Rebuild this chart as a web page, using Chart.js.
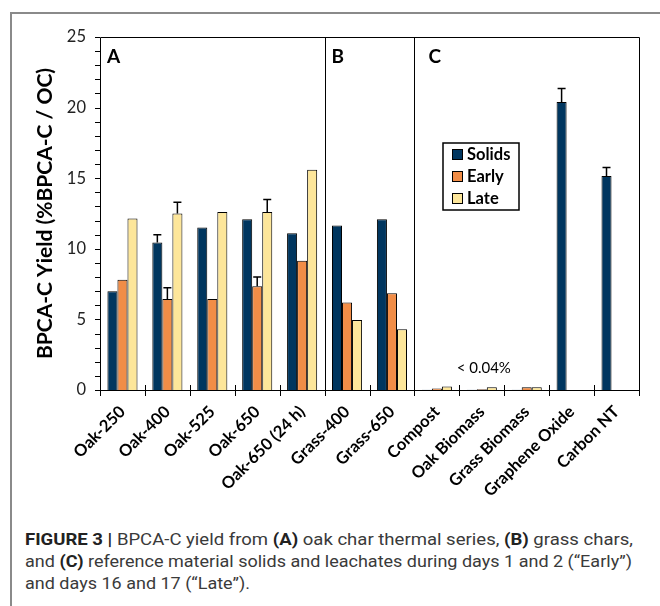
<!DOCTYPE html>
<html>
<head>
<meta charset="utf-8">
<script src="https://cdn.jsdelivr.net/npm/chart.js@4.4.0/dist/chart.umd.min.js"></script>
<style>
  html, body { margin: 0; padding: 0; background: #fff; }
  body { width: 660px; height: 606px; position: relative; overflow: hidden; }
  #frame { position: absolute; left: 10px; top: 12px; width: 700px; height: 700px;
           border-left: 2px solid #8a8a8a; border-top: 2px solid #8a8a8a; }
  #wrap { position: absolute; left: 0; top: 0; width: 660px; height: 520px; }
  .cap { position: absolute; left: 25px; font-family: Roboto, "Liberation Sans", sans-serif;
         font-size: 17px; color: #3a3a3a; white-space: nowrap; transform-origin: 0 0; }
  .cap b { color: #222; }
</style>
</head>
<body>
<div id="frame"></div>
<div id="wrap"><canvas id="chart" width="660" height="520"></canvas></div>
<div class="cap" id="cap1" style="top:529px" data-w="608"><b>FIGURE 3 |</b> BPCA-C yield from <b>(A)</b> oak char thermal series, <b>(B)</b> grass chars,</div>
<div class="cap" id="cap2" style="top:551px" data-w="607">and <b>(C)</b> reference material solids and leachates during days 1 and 2 (“Early”)</div>
<div class="cap" id="cap3" style="top:573px" data-w="225">and days 16 and 17 (“Late”).</div>
<script>
const categories = ['Oak-250', 'Oak-400', 'Oak-525', 'Oak-650', 'Oak-650 (24 h)', 'Grass-400', 'Grass-650',
  'Compost', 'Oak Biomass', 'Grass Biomass', 'Graphene Oxide', 'Carbon NT'];

const solids = [7.0, 10.45, 11.5, 12.1, 11.1, 11.65, 12.1, 0.02, 0.02, 0.02, 20.4, 15.15];
const early  = [7.8, 6.45, 6.45, 7.35, 9.15, 6.2, 6.85, 0.1, 0.05, 0.2, null, null];
const late   = [12.15, 12.5, 12.6, 12.6, 15.6, 4.95, 4.3, 0.25, 0.2, 0.2, null, null];

// top of the error bar (only the upper half is drawn in the figure)
const solidsErr = [null, 11.0, null, null, null, null, null, null, null, null, 21.35, 15.75];
const earlyErr  = [null, 7.25, null, 8.0, null, null, null, null, null, null, null, null];
const lateErr   = [null, 13.3, null, 13.5, null, null, null, null, null, null, null, null];

const yTicks = [0, 5, 10, 15, 20, 25];
const seriesNames = ['Solids', 'Early', 'Late'];
const colors = ['#00365f', '#f18d47', '#fde69a'];

const panels = [{ label: 'A', start: 0, dx: 7 }, { label: 'B', start: 5, dx: 7 }, { label: 'C', start: 7, dx: 14 }];
const noteText = '< 0.04%';
const noteAt = { index: 8, value: 1.55 };

const errors = [solidsErr, earlyErr, lateErr];

const decor = {
  id: 'decor',
  afterDatasetsDraw(chart) {
    const { ctx, scales: { y } } = chart;
    ctx.save();
    ctx.strokeStyle = '#000';
    ctx.lineWidth = 1.5;
    errors.forEach((arr, i) => {
      const meta = chart.getDatasetMeta(i);
      arr.forEach((e, j) => {
        if (e == null) return;
        const bar = meta.data[j];
        const top = y.getPixelForValue(e);
        ctx.beginPath();
        ctx.moveTo(bar.x, bar.y);
        ctx.lineTo(bar.x, top);
        ctx.moveTo(bar.x - 4, top);
        ctx.lineTo(bar.x + 4, top);
        ctx.stroke();
      });
    });
    ctx.restore();
  },
  afterDraw(chart) {
    const { ctx, chartArea: a, scales: { x, y } } = chart;
    const half = (x.getPixelForValue(1) - x.getPixelForValue(0)) / 2;
    ctx.save();
    ctx.strokeStyle = '#000';
    ctx.lineWidth = 1;
    // box and axes
    ctx.beginPath();
    ctx.moveTo(a.left + 0.5, a.top + 0.5);
    ctx.lineTo(a.right + 0.5, a.top + 0.5);
    ctx.lineTo(a.right + 0.5, a.bottom + 0.5);
    ctx.lineTo(a.left + 0.5, a.bottom + 0.5);
    ctx.closePath();
    ctx.stroke();
    // panel dividers
    panels.slice(1).forEach(p => {
      const px = Math.round(x.getPixelForValue(p.start) - half) + 0.5;
      ctx.beginPath();
      ctx.moveTo(px, a.top);
      ctx.lineTo(px, a.bottom);
      ctx.stroke();
    });
    // x tick marks across the axis
    for (let i = 0; i <= categories.length; i++) {
      const px = Math.round(x.getPixelForValue(i) - half) + 0.5;
      ctx.beginPath();
      ctx.moveTo(px, a.bottom - 5);
      ctx.lineTo(px, a.bottom + 6);
      ctx.stroke();
    }
    // y ticks, major and minor
    for (let v = y.min; v <= y.max; v++) {
      const py = Math.round(y.getPixelForValue(v)) + 0.5;
      ctx.beginPath();
      ctx.moveTo(a.left - 5, py);
      ctx.lineTo(a.left, py);
      ctx.stroke();
    }
    // panel letters
    ctx.fillStyle = '#000';
    ctx.font = 'bold 19px Lato, sans-serif';
    ctx.textBaseline = 'alphabetic';
    ctx.textAlign = 'left';
    panels.forEach(p => {
      const px = x.getPixelForValue(p.start) - half + p.dx;
      ctx.fillText(p.label, px, a.top + 26);
    });
    // note
    ctx.font = '15px Lato, sans-serif';
    ctx.textAlign = 'center';
    ctx.textBaseline = 'middle';
    ctx.fillText(noteText, x.getPixelForValue(noteAt.index) + 2, y.getPixelForValue(noteAt.value));
    // legend
    const lx = a.left + 343, ly = a.top + 106;
    ctx.lineWidth = 1.5;
    ctx.strokeRect(lx, ly, 76, 67);
    ctx.font = 'bold 16.5px Lato, sans-serif';
    ctx.textAlign = 'left';
    seriesNames.forEach((name, i) => {
      const cy = ly + 11 + i * 22;
      ctx.fillStyle = colors[i];
      ctx.fillRect(lx + 9, cy - 5, 10, 10);
      ctx.lineWidth = 1;
      ctx.strokeRect(lx + 9.5, cy - 4.5, 10, 10);
      ctx.fillStyle = '#000';
      ctx.fillText(name, lx + 24, cy + 1);
    });
    ctx.restore();
  }
};

new Chart(document.getElementById('chart'), {
  type: 'bar',
  data: {
    labels: categories,
    datasets: [solids, early, late].map((d, i) => ({
      label: seriesNames[i],
      data: d,
      backgroundColor: colors[i],
      borderColor: '#000',
      borderWidth: 1,
      categoryPercentage: 0.67,
      barPercentage: 1.0
    }))
  },
  options: {
    responsive: false,
    animation: false,
    layout: { padding: { left: 0, top: 37, right: 21, bottom: 20 } },
    plugins: { legend: { display: false }, tooltip: { enabled: false } },
    scales: {
      x: {
        grid: { display: false },
        border: { display: false },
        ticks: {
          color: '#000',
          font: { family: 'Lato', size: 16.5, weight: 'bold' },
          minRotation: 45, maxRotation: 45,
          padding: 4
        },
        afterFit(s) { s.height = 110; }
      },
      y: {
        min: 0, max: 25,
        afterBuildTicks(s) { s.ticks = yTicks.map(v => ({ value: v })); },
        grid: { display: false },
        border: { display: false },
        ticks: { color: '#222', font: { family: 'Lato', size: 16.5 }, padding: 6 },
        title: {
          display: true,
          text: 'BPCA-C Yield (%BPCA-C / OC)',
          color: '#000',
          font: { family: 'Lato', size: 21, weight: 'bold' },
          padding: { top: 33, bottom: 0 }
        },
        afterFit(s) { s.width = 100; }
      }
    }
  },
  plugins: [decor]
});

document.fonts.ready.then(() => {
  document.querySelectorAll('.cap').forEach(el => {
    const w = el.getBoundingClientRect().width;
    el.style.transform = 'scaleX(' + (el.dataset.w / w) + ')';
  });
});
</script>
</body>
</html>
